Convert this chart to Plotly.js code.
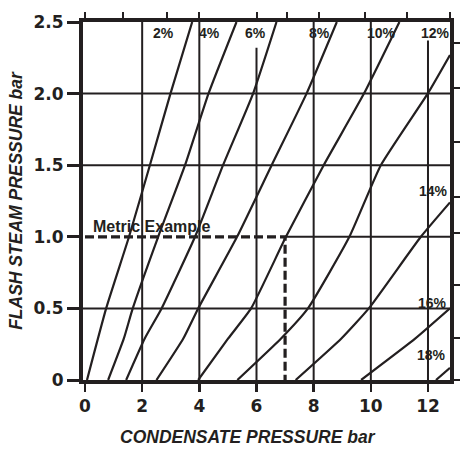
<!DOCTYPE html>
<html>
<head>
<meta charset="utf-8">
<script src="https://cdn.plot.ly/plotly-3.0.1.min.js"></script>
<style>html,body{margin:0;padding:0;background:#fff;}#chart{width:460px;height:449px;}</style>
</head>
<body>
<div id="chart"></div>
<script>
// ---- data ----
const curveLabels = ['2%','4%','6%','8%','10%','12%','14%','16%','18%'];
// flash steam pressure (bar) sample levels per curve
const y2  = [0, 0.5, 1.0, 1.5, 2.0, 2.5];
const x2  = [0.07, 0.74, 1.54, 2.27, 2.99, 3.75];
const y4  = [0, 0.29, 0.5, 1.0, 1.5, 2.0, 2.5];
const x4  = [0.81, 1.36, 1.67, 2.56, 3.50, 4.32, 5.30];
const y6  = [0, 0.29, 0.5, 1.0, 1.5, 2.0, 2.5];
const x6  = [1.44, 2.09, 2.68, 3.85, 4.83, 5.88, 6.70];
const y8  = [0, 0.29, 0.5, 1.0, 1.5, 2.0, 2.5];
const x8  = [2.50, 3.44, 3.96, 5.32, 6.53, 7.75, 8.81];
const y10 = [0, 0.29, 0.5, 1.0, 1.5, 2.0, 2.5];
const x10 = [3.96, 5.01, 5.81, 7.03, 8.35, 9.76, 11.0];
const y12 = [0, 0.29, 0.5, 1.0, 1.5, 2.0, 2.27];
const x12 = [5.33, 6.86, 7.80, 9.25, 10.35, 11.99, 12.77];
const y14 = [0, 0.29, 0.5, 1.0, 1.24];
const x14 = [7.37, 8.97, 9.93, 11.75, 12.77];
const y16 = [0, 0.29, 0.5];
const x16 = [9.66, 11.56, 12.77];
const y18 = [0, 0.085];
const x18 = [12.28, 12.77];
const curvesX = [x2, x4, x6, x8, x10, x12, x14, x16, x18];
const curvesY = [y2, y4, y6, y8, y10, y12, y14, y16, y18];

// metric example path
const exampleLabel = 'Metric Example';
const exampleX = [0, 7, 7];
const exampleY = [1, 1, 0];

// axes ticks
const xTickVals = [0, 2, 4, 6, 8, 10, 12];
const xTickText = ['0', '2', '4', '6', '8', '10', '12'];
const yTickVals = [0, 0.5, 1.0, 1.5, 2.0, 2.5];
const yTickText = ['0', '0.5', '1.0', '1.5', '2.0', '2.5'];
// unlabelled secondary scale ticks (top and right)
const topTickVals = [0, 1.33, 2.88, 4.0, 6.03, 7.05, 8.17, 9.8, 11.27, 12.76];
const rightTickVals = [0, 0.29, 0.66, 1.03, 1.28, 1.66, 2.04, 2.35];

const xTitle = 'CONDENSATE PRESSURE bar';
const yTitle = 'FLASH STEAM PRESSURE bar';

// ---- styling / layout ----
const INK = '#231f20';
const XR = [-0.07, 12.77];
const YR = [0, 2.5];

const traces = curvesX.map((xs, i) => ({
  type: 'scatter', mode: 'lines', x: xs, y: curvesY[i], name: curveLabels[i],
  line: {color: INK, width: 2.2, shape: 'spline', smoothing: 0.45},
  hoverinfo: 'skip', showlegend: false
}));
traces.push({
  type: 'scatter', mode: 'lines', x: exampleX, y: exampleY, name: exampleLabel,
  line: {color: INK, width: 3.2, dash: '9px,4px'}, showlegend: false, hoverinfo: 'skip'
});
// carriers for secondary tick axes
traces.push({type: 'scatter', mode: 'markers', x: [null], y: [null], xaxis: 'x2', yaxis: 'y', showlegend: false, hoverinfo: 'skip'});
traces.push({type: 'scatter', mode: 'markers', x: [null], y: [null], xaxis: 'x', yaxis: 'y2', showlegend: false, hoverinfo: 'skip'});

const labelPos = [
  [2.73, 2.42], [4.37, 2.42], [5.98, 2.42], [8.19, 2.42], [10.39, 2.42], [12.25, 2.42],
  [12.18, 1.32], [12.15, 0.54], [12.11, 0.175]
];
const annotations = curveLabels.map((t, i) => ({
  x: labelPos[i][0], y: labelPos[i][1], xref: 'x', yref: 'y', text: t, showarrow: false,
  xanchor: 'center', yanchor: 'middle',
  font: {family: 'Liberation Sans, Arial, sans-serif', size: 14, color: INK, weight: 'bold'}
}));
annotations.push({
  x: 2.31, y: 1.07, xref: 'x', yref: 'y', text: exampleLabel, showarrow: false,
  xanchor: 'center', yanchor: 'middle',
  font: {family: 'Liberation Sans, Arial, sans-serif', size: 16, color: INK, weight: 'bold'}
});
annotations.push({
  x: 0.4496, y: -0.159, xref: 'paper', yref: 'paper', text: xTitle, showarrow: false,
  xanchor: 'center', yanchor: 'middle',
  font: {family: 'Liberation Sans Narrow, Arial Narrow, sans-serif', size: 17.5, color: INK, weight: 'bold', style: 'italic'}
});

const shapes = [];
[2, 4, 8, 10].forEach(v => shapes.push({type: 'line', xref: 'x', yref: 'y', x0: v, x1: v, y0: 0, y1: 2.5, line: {color: INK, width: 2}, layer: 'below'}));
shapes.push({type: 'line', xref: 'x', yref: 'y', x0: 6, x1: 6, y0: 0, y1: 2.32, line: {color: INK, width: 2}, layer: 'below'});
shapes.push({type: 'line', xref: 'x', yref: 'y', x0: 12, x1: 12, y0: 0, y1: 2.37, line: {color: INK, width: 2}, layer: 'below'});
[0.5, 1.5, 2.0].forEach(v => shapes.push({type: 'line', xref: 'paper', yref: 'y', x0: 0, x1: 1, y0: v, y1: v, line: {color: INK, width: 2}, layer: 'below'}));
shapes.push({type: 'line', xref: 'x', yref: 'y', x0: 7, x1: XR[1], y0: 1, y1: 1, line: {color: INK, width: 2}, layer: 'below'});

const tickFont = {family: 'DejaVu Sans, sans-serif', size: 17, color: INK, weight: 'bold'};

const layout = {
  width: 460, height: 449,
  margin: {l: 83, r: 10, t: 22, b: 69, pad: 0},
  paper_bgcolor: '#ffffff', plot_bgcolor: '#ffffff',
  showlegend: false,
  xaxis: {
    range: XR, tickvals: xTickVals, ticktext: xTickText, ticks: 'outside', ticklen: 8, tickwidth: 2.5, tickcolor: INK,
    showline: true, linewidth: 4, linecolor: INK, mirror: true, showgrid: false, zeroline: false,
    tickfont: tickFont, fixedrange: true
  },
  yaxis: {
    range: YR, tickvals: yTickVals, ticktext: yTickText, ticks: 'outside', ticklen: 12, tickwidth: 3, tickcolor: INK,
    showline: true, linewidth: 4, linecolor: INK, mirror: true, showgrid: false, zeroline: false,
    tickfont: tickFont, fixedrange: true,
    title: {text: yTitle, standoff: 7, font: {family: 'Liberation Sans Narrow, Arial Narrow, sans-serif', size: 17.5, color: INK, weight: 'bold', style: 'italic'}}
  },
  xaxis2: {
    overlaying: 'x', side: 'top', anchor: 'y', range: XR, tickvals: topTickVals, ticks: 'outside', ticklen: 9, tickwidth: 2, tickcolor: INK,
    showticklabels: false, showgrid: false, zeroline: false, showline: false, fixedrange: true
  },
  yaxis2: {
    overlaying: 'y', side: 'right', anchor: 'x', range: YR, tickvals: rightTickVals, ticks: 'outside', ticklen: 10, tickwidth: 2, tickcolor: INK,
    showticklabels: false, showgrid: false, zeroline: false, showline: false, fixedrange: true
  },
  shapes: shapes,
  annotations: annotations
};

Plotly.newPlot('chart', traces, layout, {displayModeBar: false, staticPlot: true});
</script>
</body>
</html>
